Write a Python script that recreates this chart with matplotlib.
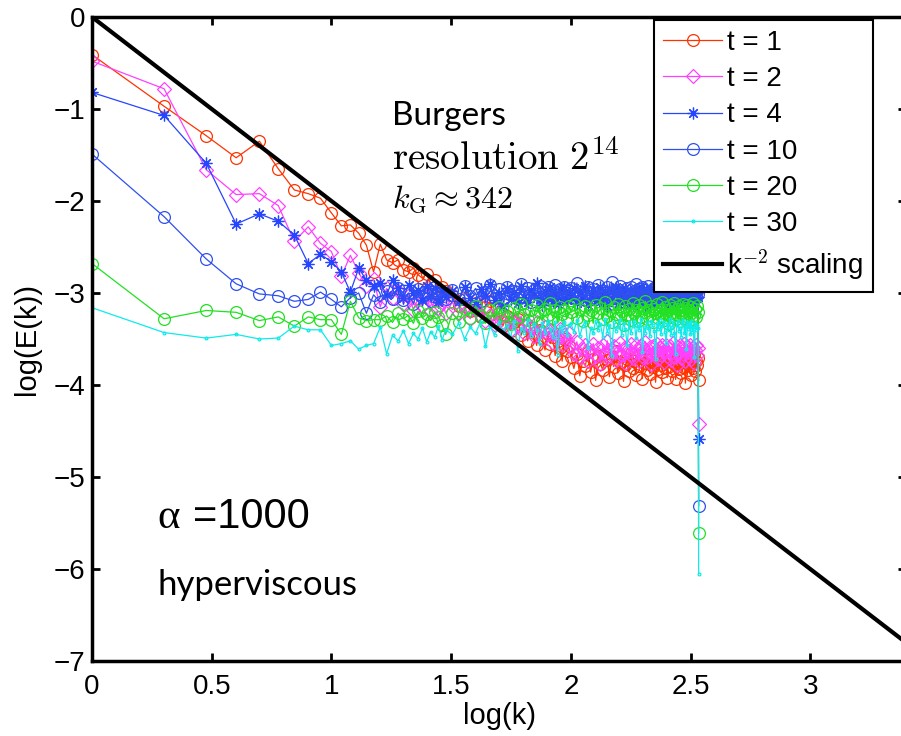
import matplotlib
matplotlib.use("Agg")
import matplotlib.pyplot as plt
import numpy as np

plt.rcParams["font.family"] = ["Liberation Sans", "DejaVu Sans"]
plt.rcParams["mathtext.fontset"] = "cm"

# Wavenumbers: every k at low k, thinned sampling in the noisy band, last point is k_G
k_low = list(range(1, 31))
k_band = list(range(32, 100, 2)) + list(range(100, 341, 3)) + [342]
k_vals = k_low + k_band

# log10 E(k) for each time (30 low-k values, 34 + 81 band values, value at k_G)
E_t1 = [
    -0.41, -0.97, -1.29, -1.53, -1.35, -1.65, -1.88, -1.92, -1.97, -2.13,
    -2.27, -2.26, -2.35, -2.48, -2.77, -2.47, -2.64, -2.67, -2.64, -2.75,
    -2.77, -2.73, -2.80, -2.84, -2.79, -2.90, -2.86, -3.00, -2.93, -2.98,
    # band
    -3.02, -3.14, -3.06, -3.20, -3.11, -3.26, -3.15, -3.09, -3.30, -3.22,
    -3.36, -3.25, -3.41, -3.31, -3.28, -3.46, -3.35, -3.52, -3.38, -3.44,
    -3.57, -3.40, -3.49, -3.62, -3.45, -3.55, -3.48, -3.68, -3.52, -3.60,
    -3.74, -3.50, -3.63, -3.58,
    -3.70, -3.82, -3.66, -3.90, -3.74, -3.79, -3.64, -3.86, -3.72, -3.95,
    -3.68, -3.77, -3.84, -3.66, -3.73, -3.91, -3.70, -3.80, -3.63, -3.87,
    -3.75, -3.69, -3.96, -3.78, -3.72, -3.85, -3.65, -3.81, -3.74, -3.89,
    -3.67, -3.79, -3.71, -3.93, -3.76, -3.68, -3.84, -3.73, -3.88, -3.66,
    -3.80, -3.75, -3.97, -3.70, -3.83, -3.64, -3.78, -3.86, -3.72, -3.81,
    -3.69, -3.92, -3.74, -3.79, -3.67, -3.85, -3.71, -3.77, -3.94, -3.73,
    -3.68, -3.83, -3.76, -3.87, -3.65, -3.80, -3.72, -3.98, -3.75, -3.70,
    -3.84, -3.67, -3.79, -3.89, -3.73, -3.81, -3.66, -3.85, -3.74, -3.78,
    -3.71,
    -3.95,
]
E_t2 = [
    -0.48, -0.78, -1.66, -1.93, -1.92, -2.05, -2.44, -2.28, -2.46, -2.55,
    -2.82, -2.59, -2.78, -2.92, -2.85, -3.15, -2.95, -3.05, -2.98, -3.12,
    -3.02, -3.18, -3.06, -3.14, -3.03, -3.20, -3.08, -3.16, -3.10, -3.22,
    # band
    -3.10, -3.22, -3.15, -3.28, -3.18, -3.12, -3.30, -3.24, -3.35, -3.20,
    -3.32, -3.27, -3.40, -3.29, -3.36, -3.25, -3.43, -3.34, -3.38, -3.47,
    -3.31, -3.42, -3.50, -3.37, -3.45, -3.40, -3.54, -3.43, -3.48, -3.39,
    -3.56, -3.46, -3.51, -3.44,
    -3.58, -3.66, -3.53, -3.70, -3.61, -3.56, -3.74, -3.63, -3.55, -3.68,
    -3.60, -3.77, -3.57, -3.65, -3.52, -3.69, -3.62, -3.58, -3.73, -3.64,
    -3.54, -3.67, -3.60, -3.76, -3.59, -3.63, -3.55, -3.71, -3.66, -3.57,
    -3.62, -3.74, -3.56, -3.68, -3.61, -3.53, -3.70, -3.64, -3.59, -3.77,
    -3.58, -3.66, -3.62, -3.55, -3.72, -3.60, -3.67, -3.57, -3.75, -3.63,
    -3.56, -3.69, -3.61, -3.58, -3.73, -3.65, -3.54, -3.68, -3.62, -3.78,
    -3.59, -3.64, -3.57, -3.71, -3.60, -3.66, -3.55, -3.74, -3.63, -3.58,
    -3.69, -3.61, -3.56, -3.72, -3.64, -3.59, -3.76, -3.62, -3.57, -3.67,
    -3.60,
    -4.42,
]
E_t4 = [
    -0.82, -1.07, -1.59, -2.25, -2.14, -2.22, -2.37, -2.68, -2.58, -2.66,
    -2.77, -2.99, -2.73, -2.86, -2.92, -2.89, -3.02, -2.86, -2.95, -3.05,
    -2.91, -3.00, -2.97, -3.08, -2.92, -3.03, -2.95, -3.10, -2.98, -3.04,
    # band
    -2.98, -3.09, -2.93, -3.05, -3.12, -2.96, -3.03, -2.90, -3.08, -3.00,
    -3.14, -2.95, -3.06, -2.99, -3.11, -2.92, -3.04, -3.10, -2.97, -3.02,
    -2.89, -3.07, -3.13, -2.98, -3.05, -2.94, -3.09, -3.01, -3.12, -2.96,
    -3.06, -2.93, -3.08, -3.00,
    -3.04, -2.95, -3.11, -2.99, -3.07, -2.92, -3.13, -3.02, -2.97, -3.09,
    -3.05, -2.94, -3.10, -3.00, -3.14, -2.96, -3.06, -3.01, -2.93, -3.12,
    -3.03, -2.98, -3.08, -2.95, -3.11, -3.04, -2.99, -3.13, -2.97, -3.06,
    -3.00, -3.10, -2.94, -3.07, -3.02, -3.15, -2.98, -3.05, -2.96, -3.09,
    -3.03, -3.12, -2.95, -3.01, -3.08, -2.97, -3.11, -3.04, -2.93, -3.07,
    -3.00, -3.13, -2.98, -3.06, -3.02, -2.95, -3.10, -3.03, -3.14, -2.97,
    -3.05, -2.99, -3.09, -2.94, -3.12, -3.01, -3.06, -2.96, -3.11, -3.03,
    -2.98, -3.08, -3.00, -3.13, -2.95, -3.07, -3.02, -3.10, -2.97, -3.05,
    -3.04,
    -4.59,
]
E_t10 = [
    -1.49, -2.17, -2.63, -2.90, -3.01, -3.03, -3.09, -3.07, -2.99, -3.07,
    -3.15, -3.05, -3.00, -3.22, -3.02, -3.10, -2.98, -3.06, -2.95, -3.08,
    -3.00, -3.12, -2.96, -3.04, -2.99, -3.09, -2.94, -3.05, -3.01, -3.07,
    # band
    -2.97, -3.06, -2.92, -3.03, -2.95, -3.09, -2.99, -2.91, -3.05, -2.96,
    -3.08, -2.93, -3.02, -2.98, -3.07, -2.90, -3.04, -2.95, -3.10, -2.97,
    -3.01, -2.92, -3.06, -2.99, -2.94, -3.08, -3.00, -2.91, -3.04, -2.96,
    -3.07, -2.93, -3.02, -2.98,
    -2.95, -3.05, -2.89, -3.02, -2.97, -3.08, -2.93, -3.00, -2.96, -3.06,
    -2.91, -3.03, -2.98, -3.09, -2.94, -3.01, -2.88, -3.05, -2.97, -3.07,
    -2.92, -3.02, -2.99, -3.10, -2.95, -3.04, -2.93, -3.06, -2.98, -2.90,
    -3.03, -2.96, -3.08, -2.94, -3.01, -2.97, -3.07, -2.92, -3.04, -2.99,
    -3.09, -2.95, -3.02, -2.91, -3.06, -2.98, -3.03, -2.94, -3.08, -2.96,
    -3.00, -2.93, -3.05, -2.99, -3.07, -2.92, -3.02, -2.97, -3.10, -2.95,
    -3.04, -2.90, -3.01, -2.96, -3.06, -2.98, -3.03, -2.93, -3.08, -2.97,
    -3.00, -2.94, -3.05, -2.99, -3.07, -2.92, -3.02, -2.96, -3.04, -2.98,
    -3.01,
    -5.31,
]
E_t20 = [
    -2.68, -3.28, -3.19, -3.21, -3.30, -3.26, -3.36, -3.26, -3.29, -3.29,
    -3.45, -3.09, -3.27, -3.30, -3.29, -3.29, -3.25, -3.32, -3.22, -3.28,
    -3.24, -3.33, -3.20, -3.27, -3.23, -3.30, -3.21, -3.26, -3.35, -3.45,
    # band
    -3.22, -3.31, -3.17, -3.27, -3.14, -3.25, -3.33, -3.19, -3.28, -3.15,
    -3.24, -3.20, -3.34, -3.16, -3.26, -3.12, -3.23, -3.29, -3.18, -3.25,
    -3.13, -3.21, -3.30, -3.17, -3.24, -3.11, -3.27, -3.19, -3.32, -3.15,
    -3.23, -3.18, -3.28, -3.14,
    -3.21, -3.12, -3.27, -3.17, -3.30, -3.14, -3.24, -3.19, -3.33, -3.13,
    -3.22, -3.16, -3.28, -3.10, -3.25, -3.18, -3.31, -3.15, -3.23, -3.12,
    -3.27, -3.20, -3.35, -3.14, -3.24, -3.17, -3.29, -3.11, -3.22, -3.19,
    -3.30, -3.13, -3.26, -3.16, -3.21, -3.09, -3.28, -3.18, -3.24, -3.14,
    -3.32, -3.17, -3.22, -3.12, -3.27, -3.19, -3.25, -3.10, -3.29, -3.15,
    -3.23, -3.18, -3.34, -3.13, -3.26, -3.16, -3.21, -3.11, -3.28, -3.17,
    -3.24, -3.14, -3.30, -3.19, -3.22, -3.12, -3.27, -3.16, -3.25, -3.13,
    -3.31, -3.18, -3.23, -3.15, -3.28, -3.11, -3.24, -3.17, -3.26, -3.14,
    -3.21,
    -5.61,
]
E_t30 = [
    -3.16, -3.43, -3.49, -3.45, -3.50, -3.49, -3.36, -3.40, -3.40, -3.57,
    -3.55, -3.52, -3.61, -3.57, -3.55, -3.37, -3.66, -3.46, -3.52, -3.41,
    -3.55, -3.44, -3.50, -3.38, -3.53, -3.42, -3.48, -3.36, -3.51, -3.40,
    # band
    -3.45, -3.33, -3.50, -3.37, -3.44, -3.31, -3.58, -3.36, -3.46, -3.32,
    -3.41, -3.35, -3.49, -3.30, -3.63, -3.38, -3.43, -3.29, -3.47, -3.34,
    -3.40, -3.55, -3.33, -3.44, -3.30, -3.39, -3.48, -3.32, -3.67, -3.36,
    -3.42, -3.31, -3.46, -3.35,
    -3.33, -3.42, -3.29, -3.47, -3.36, -3.31, -3.60, -3.38, -3.44, -3.30,
    -3.40, -3.34, -3.48, -3.28, -3.43, -3.35, -3.68, -3.32, -3.41, -3.37,
    -3.29, -3.46, -3.33, -3.39, -3.57, -3.31, -3.44, -3.36, -3.30, -3.49,
    -3.34, -3.40, -3.28, -3.64, -3.37, -3.43, -3.32, -3.38, -3.47, -3.30,
    -3.35, -3.41, -3.72, -3.33, -3.39, -3.29, -3.45, -3.36, -3.31, -3.42,
    -3.54, -3.34, -3.40, -3.28, -3.46, -3.37, -3.32, -3.43, -3.66, -3.35,
    -3.30, -3.41, -3.38, -3.48, -3.33, -3.29, -3.44, -3.36, -3.61, -3.31,
    -3.39, -3.34, -3.45, -3.30, -3.42, -3.37, -3.70, -3.33, -3.40, -3.35,
    -3.38,
    -6.05,
]

labels = ["t = 1", "t = 2", "t = 4", "t = 10", "t = 20", "t = 30"]
series = [E_t1, E_t2, E_t4, E_t10, E_t20, E_t30]
colors = ["#ff3300", "#ff40ff", "#2545ff", "#2f50f0", "#22e022", "#10eaea"]
markers = ["o", "D", (8, 2, 0), "o", "o", "."]
msizes = [8.5, 7, 8.5, 8.5, 8.5, 4]

# reference slope line k^-2
k_ref = [1, 10 ** 3.45]

fig = plt.figure(figsize=(9.01, 7.36), dpi=100)
ax = fig.add_axes([92 / 901, 75 / 736, 814 / 901, 644 / 736])

logk = np.log10(k_vals)
for E, lab, c, m, ms in zip(series, labels, colors, markers, msizes):
    ax.plot(logk, E, color=c, marker=m, markersize=ms, markerfacecolor="none",
            markeredgecolor=c, markeredgewidth=0.9, linewidth=0.9, label=lab)

ax.plot(np.log10(k_ref), -2 * np.log10(k_ref), color="black", linewidth=3,
        label=r"k$^{-2}$ scaling", zorder=5)

ax.set_xlim(0, 3.4)
ax.set_ylim(-7, 0)
ax.set_xticks([0, 0.5, 1, 1.5, 2, 2.5, 3])
ax.set_xticklabels(["0", "0.5", "1", "1.5", "2", "2.5", "3"])
ax.set_yticks(range(-7, 1))
ax.tick_params(direction="in", length=6, width=2, labelsize=20, top=True, right=True)
ax.tick_params(axis="x", pad=9)
ax.tick_params(axis="y", pad=5)
for sp in ax.spines.values():
    sp.set_linewidth(2.5)
    sp.set_zorder(6)

ax.set_xlabel("log(k)", fontsize=21, labelpad=2)
ax.set_ylabel("log(E(k))", fontsize=21, labelpad=9)

leg = ax.legend(loc="upper right", bbox_to_anchor=(873 / 901, 1 - 20 / 736),
                bbox_transform=fig.transFigure, fontsize=20, fancybox=False,
                framealpha=1, edgecolor="black", borderaxespad=0,
                handlelength=2.1, handletextpad=0.2, labelspacing=0.37,
                borderpad=0.35)
leg.get_frame().set_linewidth(1.5)
leg.set_zorder(10)

# annotations
fig.text(392 / 901, 1 - 125 / 736, "Burgers", fontsize=24, family="Lato", va="baseline")
fig.text(392 / 901, 1 - 170 / 736, r"$\mathrm{resolution}\ 2^{14}$", fontsize=28, va="baseline")
fig.text(392 / 901, 1 - 208 / 736, r"$k_{\mathrm{G}}\approx 342$", fontsize=23, va="baseline")
fig.text(157 / 901, 1 - 528 / 736, "α", fontsize=31, family="Liberation Serif", va="baseline")
fig.text(193 / 901, 1 - 528 / 736, "=1000", fontsize=30, va="baseline")
fig.text(158 / 901, 1 - 595 / 736, "hyperviscous", fontsize=25, family="Lato", va="baseline")

fig.savefig("out.png", dpi=100)
